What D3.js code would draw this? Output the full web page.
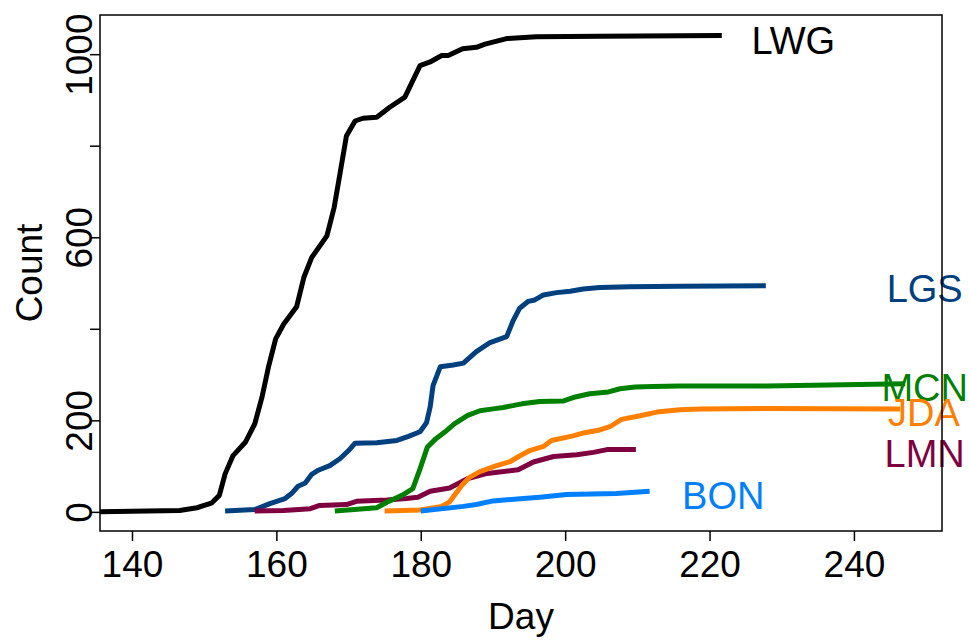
<!DOCTYPE html>
<html><head><meta charset="utf-8">
<script src="https://cdn.jsdelivr.net/npm/d3@7"></script>
<style>body{margin:0;background:#fff}svg{display:block}text{font-family:"Liberation Sans",Arial,sans-serif}</style>
</head><body>
<svg id="c" width="970" height="642"></svg>
<script>
// ---- data ----
const xTicks = [140, 160, 180, 200, 220, 240];
const yTicks = [0, 200, 400, 600, 800, 1000];
const yTickLabels = ["0", "200", "", "600", "", "1000"];

const lwgDay = [135,146.6,149,151,152.1,152.9,154,155.7,157,158,158.9,159.9,161,162.8,163.8,164.9,167,168,168.8,169.7,170.9,172,173.9,175.7,177.8,179.9,181.3,182.9,183.8,185.8,187.7,188.9,191.9,196,204.8,221.7];
const lwgVal = [0,3,9,19,36,83,123,152,192,250,316,378,410,448,512,556,603,665,738,821,854,860,862,884,906,975,983,997,997,1012,1015,1022,1034,1038,1039,1041];

const lgsDay = [152.9,157,159.1,161.2,162.1,163,164,164.9,165.8,167.4,168.8,170,170.9,173.9,176.7,178.3,179.9,180.8,181.3,181.7,182.7,184.5,185.9,187.7,189.6,191.9,192.8,193.7,194.9,195.8,197,198.8,200.7,202.5,204.8,209,215.9,227.8];
const lgsVal = [2,5,18,29,40,56,63,82,91,101,116,134,150,151,156,165,175,195,229,276,317,321,325,350,370,383,418,445,460,463,474,479,482,487,490,492,493,494];

const lmnDay = [157,161,164.7,166,169.7,171.1,175.3,178,179.6,181.3,184,186.4,189.2,193.5,195.6,198.4,201.6,203.9,205.8,209.8];
const lmnVal = [2,3,7,14,16,23,26,29,32,45,52,72,84,92,109,121,125,130,136,136];

const mcnDay = [168.1,173.9,175.3,177.4,178.9,179.9,180.9,182.1,183.6,184.7,186.5,188.2,190,191.4,194,196.5,199.7,201.4,203.4,206,207.6,209.7,212.2,215.9,227.9,247.1];
const mcnVal = [2,9,21,36,51,94,141,160,178,193,211,221,225,228,236,241,242,251,258,262,269,273,274,275,275,280];

const jdaDay = [175,179.9,182.9,184,185.7,186.8,188.2,190.5,192.4,193.7,195.1,197,198.1,201.1,202.7,204.8,206.2,207.8,210.4,212.7,215.9,218.7,227.9,246.4];
const jdaVal = [2,4,12,22,58,76,88,101,110,122,134,143,156,166,173,179,186,202,210,218,223,225,226,225];

const bonDay = [180,185.9,187.7,190,194.2,196.5,200.2,207.1,211.7];
const bonVal = [2,12,16,24,29,32,38,40,45];

const seriesNames = ["LWG", "LGS", "LMN", "MCN", "JDA", "BON"];
const seriesDays = [lwgDay, lgsDay, lmnDay, mcnDay, jdaDay, bonDay];
const seriesVals = [lwgVal, lgsVal, lmnVal, mcnVal, jdaVal, bonVal];
const seriesColors = ["#000000", "#00407f", "#7f0040", "#008000", "#ff8000", "#0080ff"];
// label anchor positions (day, count), in series order
const labelDay = [231.6, 249.8, 249.8, 249.8, 249.7, 221.9];
const labelVal = [1029, 486, 126, 270, 215, 35];

// ---- chart ----
const svg = d3.select("#c");
const L = 100, R = 942, T = 15, B = 531;
const x = d3.scaleLinear().domain([135.57, 252.2]).range([L, R]);
const y = d3.scaleLinear().domain([-41.8, 1085.6]).range([B, T]);

svg.append("clipPath").attr("id", "clip").append("rect")
  .attr("x", L).attr("y", T).attr("width", R - L).attr("height", B - T);

const line = d3.line().x(d => x(d[0])).y(d => y(d[1]));
const g = svg.append("g").attr("clip-path", "url(#clip)");
seriesNames.forEach((n, i) => {
  const pts = seriesDays[i].map((d, j) => [d, seriesVals[i][j]]);
  g.append("path").datum(pts).attr("d", line)
    .attr("fill", "none").attr("stroke", seriesColors[i])
    .attr("stroke-width", 5).attr("stroke-linejoin", "round");
});

// labels
seriesNames.forEach((n, i) => {
  svg.append("text").attr("x", x(labelDay[i])).attr("y", y(labelVal[i]))
    .attr("text-anchor", "middle").attr("dominant-baseline", "central")
    .attr("font-size", 38).attr("fill", seriesColors[i]).text(n);
});

// box
svg.append("rect").attr("x", L).attr("y", T).attr("width", R - L).attr("height", B - T)
  .attr("fill", "none").attr("stroke", "#000").attr("stroke-width", 1.5);

// x axis
const xa = svg.append("g").attr("transform", `translate(0,${B})`)
  .call(d3.axisBottom(x).tickValues(xTicks).tickSize(10).tickSizeOuter(0).tickPadding(10));
xa.select(".domain").remove();
xa.selectAll("line").attr("stroke-width", 1.5);
xa.selectAll("text").attr("font-size", 37).attr("font-family", "Liberation Sans, Arial").attr("fill", "#000");

// y axis
const ya = svg.append("g").attr("transform", `translate(${L},0)`)
  .call(d3.axisLeft(y).tickValues(yTicks).tickFormat((d, i) => yTickLabels[i]).tickSize(10).tickSizeOuter(0));
ya.select(".domain").remove();
ya.selectAll("line").attr("stroke-width", 1.5);
ya.selectAll("text").attr("font-size", 37).attr("font-family", "Liberation Sans, Arial").attr("fill", "#000")
  .attr("x", null).attr("dy", null)
  .attr("transform", "translate(-8,0) rotate(-90)")
  .attr("text-anchor", "middle").attr("y", 0);

// axis titles
svg.append("text").attr("x", (L + R) / 2).attr("y", 629).attr("text-anchor", "middle")
  .attr("font-size", 37).text("Day");
svg.append("text").attr("transform", `translate(42,${(T + B) / 2}) rotate(-90)`)
  .attr("text-anchor", "middle").attr("font-size", 37).text("Count");
</script>
</body></html>
